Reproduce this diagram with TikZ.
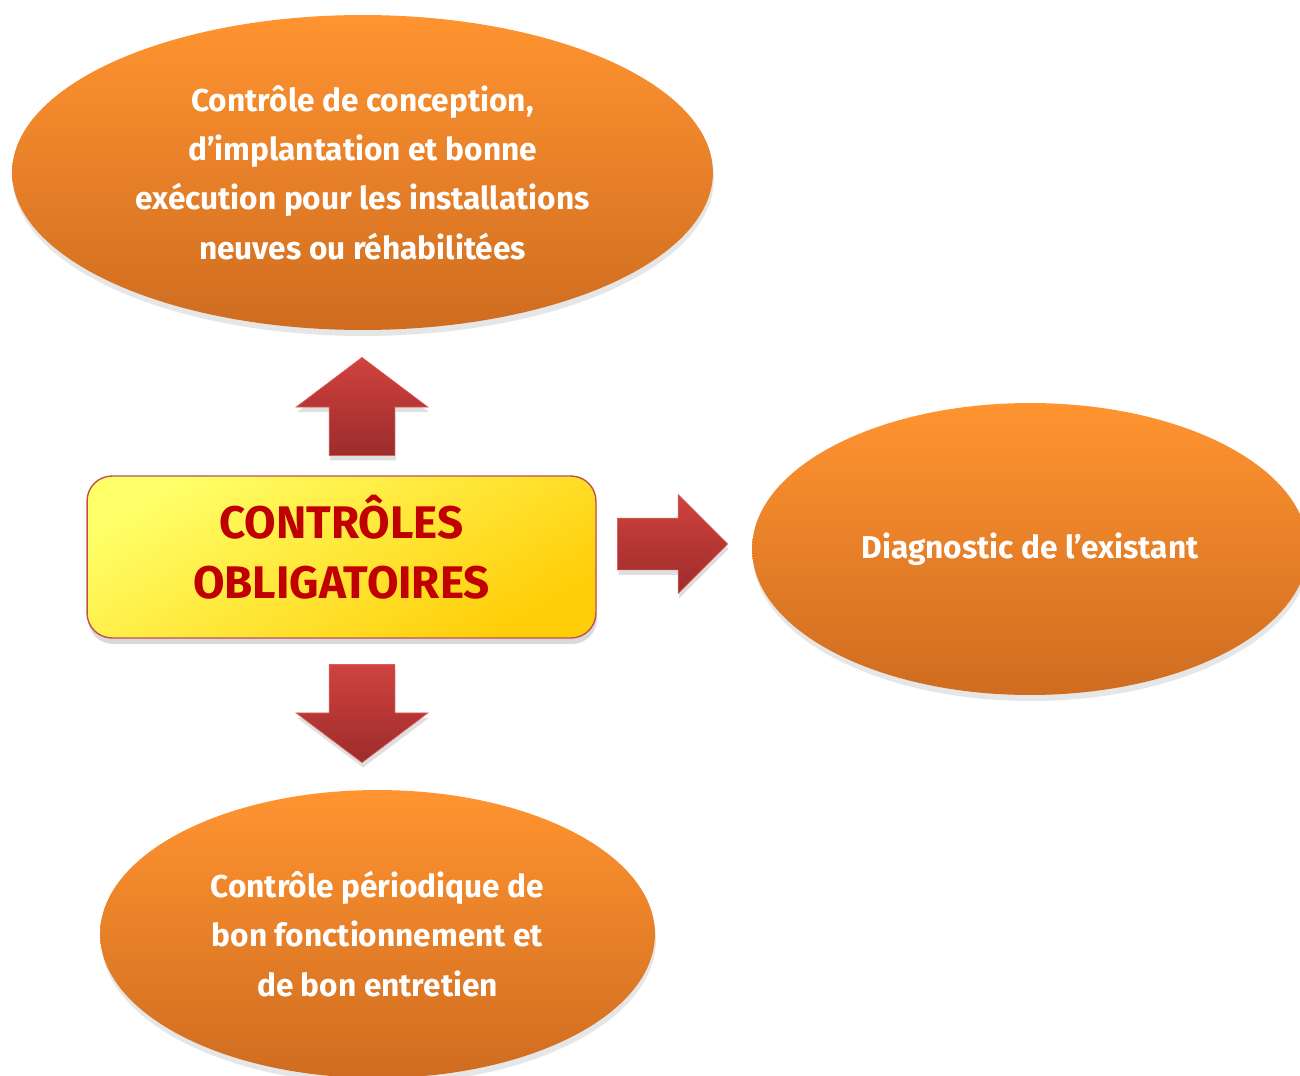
\documentclass[tikz,border=0pt]{standalone}
\usepackage{fontspec}
\setmainfont{Fira Sans}
\usetikzlibrary{shapes.geometric,shapes.arrows,shadows}

\definecolor{orangeTop}{RGB}{255,148,48}
\definecolor{orangeBot}{RGB}{207,108,32}
\definecolor{yellowLight}{RGB}{255,255,104}
\definecolor{yellowMid}{RGB}{255,252,94}
\definecolor{yellowGold}{RGB}{255,206,8}
\definecolor{boxBorder}{RGB}{192,80,77}
\definecolor{boxText}{RGB}{192,0,0}
\definecolor{arrowTop}{RGB}{208,66,62}
\definecolor{arrowBot}{RGB}{156,44,44}

\tikzset{
    controle/.style={ellipse, inner sep=0pt, top color=orangeTop, bottom color=orangeBot,
        text=white, align=center, font=\fontsize{18}{28}\selectfont\bfseries,
        drop shadow={shadow xshift=0.2mm, shadow yshift=-1.2mm, opacity=0.2}},
    titrebox/.style={rectangle, rounded corners=0.5cm, draw=boxBorder, line width=0.8pt,
        top color=yellowLight, middle color=yellowMid, bottom color=yellowGold, shading angle=30,
        minimum width=10.18cm, minimum height=3.24cm,
        drop shadow={shadow xshift=0.2mm, shadow yshift=-1.2mm, opacity=0.3}},
    titretexte/.style={text=boxText, align=center, inner sep=0pt,
        font=\fontsize{26}{34}\selectfont\bfseries},
    flecheRouge/.style={single arrow, top color=arrowTop, bottom color=arrowBot,
        draw=arrowTop!85!white, line width=0.4pt,
        drop shadow={shadow xshift=0.2mm, shadow yshift=-1mm, opacity=0.25}}
}

\begin{document}
\begin{tikzpicture}[x=0.02cm, y=-0.02cm]
    \path[use as bounding box, clip] (0,0) rectangle (1300,1075);

    % les trois controles
    \node[controle, minimum width=14.02cm, minimum height=6.3cm] (conception) at (362.5,172.5)
        {Contrôle de conception,\\d’implantation et bonne\\exécution pour les installations\\neuves ou réhabilitées};
    \node[controle, minimum width=11.12cm, minimum height=5.84cm] (diagnostic) at (1030,549)
        {Diagnostic de l’existant};
    \node[controle, minimum width=11.1cm, minimum height=5.76cm] (periodique) at (377.5,934)
        {Contrôle périodique de\\bon fonctionnement et\\de bon entretien};

    % boite centrale
    \node[titrebox] (obligatoires) at (341.5,557) {};
    \node[titretexte] (titre) at ([yshift=0.2cm]obligatoires.center) {CONTRÔLES\\OBLIGATOIRES};

    % fleches
    \begin{scope}[every node/.style={flecheRouge}]
        \node[shape border rotate=90, inner xsep=0.65cm, inner ysep=0pt, minimum height=1.96cm,
              single arrow head extend=0.66cm, single arrow tip angle=106, anchor=tip]
              (versConception) at (362,357) {};
        \node[shape border rotate=0, inner xsep=0pt, inner ysep=0.51cm, minimum height=2.2cm,
              single arrow head extend=0.47cm, single arrow tip angle=90, anchor=tip]
              (versDiagnostic) at (728,544) {};
        \node[shape border rotate=270, inner xsep=0.65cm, inner ysep=0pt, minimum height=1.96cm,
              single arrow head extend=0.66cm, single arrow tip angle=106, anchor=tip]
              (versPeriodique) at (362,763) {};
    \end{scope}
\end{tikzpicture}
\end{document}
